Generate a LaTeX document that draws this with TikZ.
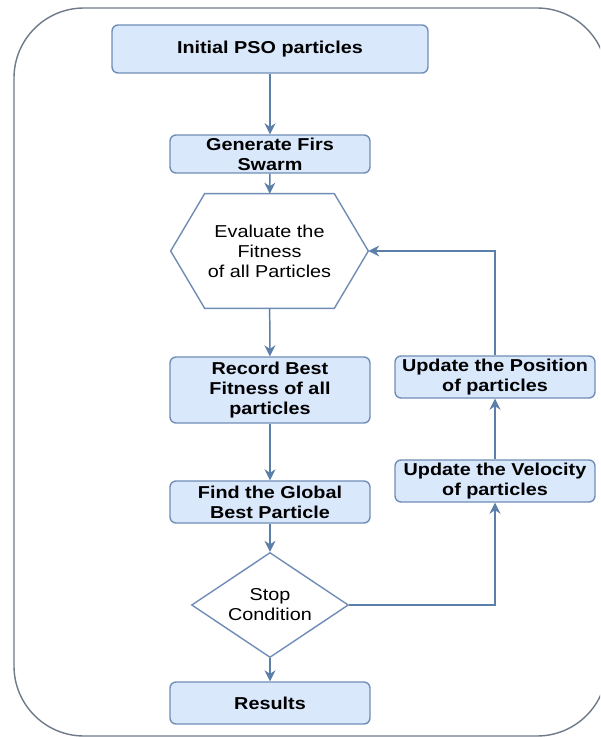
\documentclass[tikz,border=0pt]{standalone}
\usepackage{fontspec}
\setmainfont{Liberation Sans}[FakeStretch=1.15]
\usetikzlibrary{arrows.meta,shapes.geometric}
\definecolor{colorFill}{HTML}{DAE8FC}
\definecolor{colorLine}{HTML}{6F8DB5}
\definecolor{colorArrow}{HTML}{5B7FA8}
\definecolor{colorFrame}{HTML}{6E7A87}
\tikzset{
   every path/.style={>={Stealth[length=2.2mm,width=2.2mm]}},
   stepbox/.style={draw=colorLine,fill=colorFill,line width=0.8pt,rounded corners=0.12cm,
     align=center,inner sep=0pt,font=\fontsize{9.8}{11.4}\selectfont\bfseries,
     minimum width=4cm,minimum height=0.84cm},
   plain/.style={align=center,inner sep=0pt,font=\fontsize{9.8}{11.4}\selectfont},
   hexline/.style={draw=colorLine,line width=0.8pt,fill=white},
   decide/.style={plain,diamond,aspect=1.5,draw=colorLine,line width=0.8pt,fill=white,
     minimum width=3.14cm,minimum height=2.1cm},
   flow/.style={->,color=colorArrow,line width=0.85pt},
   frame/.style={draw=colorFrame,line width=0.8pt,rounded corners=1.4cm},
 }
\newcommand{\dflow}[2]{\draw[flow] (#1) -- (#2)}
\newcommand{\dflowh}[2]{\draw[flow] (#1) -| (#2)}
\newcommand{\dflowv}[2]{\draw[flow] (#1) |- (#2)}
\begin{document}
\begin{tikzpicture}[x=0.02cm,y=-0.02cm]
      \useasboundingbox (0,0) rectangle (600,737);
      \clip (0,0) rectangle (600,737);
      \draw[frame] (14,8) rectangle (607,736);

      \node[stepbox,minimum width=6.32cm,minimum height=0.96cm] (InitP) at (270,49) {Initial PSO particles};
      \node[stepbox,minimum height=0.76cm] (GenS) at (270,154) {Generate Firs\\Swarm};
      \dflow{InitP}{GenS};

      \node[plain,minimum width=3.94cm,minimum height=2.28cm] (EvalF) at (269.5,251) {};
      \draw[hexline] (EvalF.west) -- ([xshift=0.68cm]EvalF.north west) -- ([xshift=-0.68cm]EvalF.north east)
        -- (EvalF.east) -- ([xshift=-0.68cm]EvalF.south east) -- ([xshift=0.68cm]EvalF.south west) -- cycle;
      \node[plain] at (EvalF) {Evaluate the\\Fitness\\of all Particles};
      \dflow{GenS}{EvalF};

      \node[stepbox,minimum height=1.32cm] (RecB) at (270,390) {Record Best\\Fitness of all\\particles};
      \dflow{EvalF}{RecB};
      \node[stepbox] (FindG) at (270,502) {Find the Global\\Best Particle};
      \dflow{RecB}{FindG};
      \node[decide] (StopC) at (270,605) {Stop\\Condition};
      \dflow{FindG}{StopC};
      \node[stepbox] (Res) at (270,703) {Results};
      \dflow{StopC}{Res};

      \node[stepbox] (UpdV) at (495,481) {Update the Velocity\\of particles};
      \dflowh{StopC.east}{UpdV.south};
      \node[stepbox] (UpdP) at (495,377) {Update the Position\\of particles};
      \dflow{UpdV}{UpdP};
      \dflowv{UpdP.north}{EvalF.east};
\end{tikzpicture}
\end{document}
